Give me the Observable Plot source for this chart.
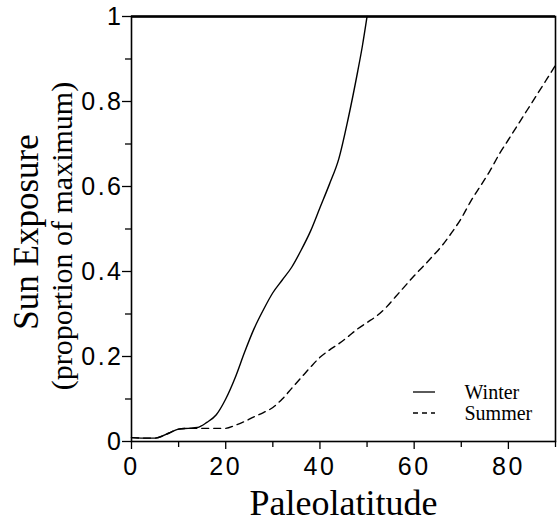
<!DOCTYPE html>
<html>
<head>
<meta charset="utf-8">
<script src="https://cdn.jsdelivr.net/npm/d3@7"></script>
<script src="https://cdn.jsdelivr.net/npm/@observablehq/plot@0.6"></script>
<style>
  html, body { margin: 0; padding: 0; background: #fff; }
  .tick-labels text { letter-spacing: 2.5px; font-family: 'Liberation Sans', Arial, sans-serif !important; }
</style>
</head>
<body>
<div id="chart"></div>
<script>
// Data
const winterLat = [0, 2, 5, 8, 10, 12, 14, 16, 18, 20, 22, 24, 26, 28, 30, 32, 34, 36, 38, 40, 42, 44, 46, 48, 49, 50];
const winterExp = [0.009, 0.008, 0.008, 0.02, 0.029, 0.031, 0.033, 0.045, 0.063, 0.10, 0.15, 0.21, 0.265, 0.31, 0.35, 0.38, 0.41, 0.45, 0.495, 0.55, 0.605, 0.665, 0.76, 0.87, 0.93, 1.0];

const summerLat = [0, 2, 5, 8, 10, 12, 14, 16, 18, 20, 22, 24, 26, 28, 30, 32, 34, 36, 38, 40, 42, 44, 46, 48, 50, 52, 54, 56, 58, 60, 62, 64, 66, 68, 70, 72, 74, 76, 78, 80, 82, 84, 86, 88, 90];
const summerExp = [0.009, 0.008, 0.008, 0.02, 0.029, 0.031, 0.031, 0.031, 0.031, 0.031, 0.038, 0.047, 0.058, 0.068, 0.08, 0.10, 0.125, 0.15, 0.175, 0.198, 0.215, 0.23, 0.247, 0.265, 0.28, 0.295, 0.315, 0.34, 0.365, 0.39, 0.413, 0.437, 0.462, 0.492, 0.525, 0.565, 0.60, 0.635, 0.675, 0.71, 0.745, 0.78, 0.815, 0.85, 0.885];

const xMajorTicks = [0, 20, 40, 60, 80];
const xMinorTicks = [10, 30, 50, 70, 90];
const yMajorTicks = [0, 0.2, 0.4, 0.6, 0.8, 1];
const yMinorTicks = [0.1, 0.3, 0.5, 0.7, 0.9];

const seriesNames = ["Winter", "Summer"];
const xTitle = "Paleolatitude";
const yTitle = "Sun Exposure";
const ySubtitle = "(proportion of maximum)";

const winter = winterLat.map((x, i) => ({x, y: winterExp[i]}));
const summer = summerLat.map((x, i) => ({x, y: summerExp[i]}));

const sans = "'Liberation Sans', Arial, sans-serif";
const serif = "'Liberation Serif', 'Times New Roman', serif";

const plot = Plot.plot({
  width: 559,
  height: 522,
  marginLeft: 131,
  marginRight: 4,
  marginTop: 16,
  marginBottom: 81,
  style: {background: "#fff", color: "#000", fontFamily: sans},
  x: {domain: [0, 90]},
  y: {domain: [0, 1]},
  marks: [
    Plot.axisX({ticks: xMajorTicks, tickSize: 8, tickPadding: 8, fontSize: 25, label: null, tickFormat: d => String(d), strokeWidth: 1.3, className: "tick-labels"}),
    Plot.axisX({ticks: xMinorTicks, tickSize: 6, text: null, label: null, strokeWidth: 1.3}),
    Plot.axisY({ticks: yMajorTicks, tickSize: 9, tickPadding: -1, fontSize: 25, label: null, tickFormat: d => String(d), strokeWidth: 1.3, className: "tick-labels"}),
    Plot.axisY({ticks: yMinorTicks, tickSize: 6, text: null, label: null, strokeWidth: 1.3}),
    Plot.line(summer, {x: "x", y: "y", stroke: "#000", strokeWidth: 1.4, strokeDasharray: "7,5", curve: "monotone-x"}),
    Plot.line(winter, {x: "x", y: "y", stroke: "#000", strokeWidth: 1.4, curve: "monotone-x"}),
    Plot.frame({stroke: "#000", strokeWidth: 1.6}),
    Plot.ruleY([yMajorTicks[yMajorTicks.length - 1]], {stroke: "#000", strokeWidth: 2.6}),
    Plot.text([xTitle], {frameAnchor: "bottom", textAnchor: "middle", dy: 62, fontSize: 36, fontFamily: serif, fill: "#000", lineAnchor: "middle", className: "serif-text"}),
    Plot.text([yTitle], {frameAnchor: "left", textAnchor: "middle", dx: -105, dy: 3, rotate: -90, fontSize: 35, fontFamily: serif, fill: "#000", lineAnchor: "middle", className: "serif-text"}),
    Plot.text([ySubtitle], {frameAnchor: "left", textAnchor: "middle", dx: -69, dy: 7, rotate: -90, fontSize: 30, fontFamily: serif, fill: "#000", lineAnchor: "middle", className: "serif-text"}),
    Plot.text([seriesNames[0]], {frameAnchor: "bottom-right", dx: -91, dy: -49, textAnchor: "start", lineAnchor: "middle", fontSize: 20, fontFamily: serif, fill: "#000", className: "serif-text"}),
    Plot.text([seriesNames[1]], {frameAnchor: "bottom-right", dx: -91, dy: -28, textAnchor: "start", lineAnchor: "middle", fontSize: 20, fontFamily: serif, fill: "#000", className: "serif-text"})
  ]
});

// force serif family on the title/legend texts
const svg = d3.select(plot);
svg.selectAll("text").filter(function() {
  const t = this.textContent;
  return t === xTitle || t === yTitle || t === ySubtitle || seriesNames.includes(t);
}).attr("font-family", serif).style("font-family", serif);

// legend line samples
const xs = plot.scale("x"), ys = plot.scale("y");
const right = xs.range[1], bottom = ys.range[0];
const legendDash = [null, "5,4"];
[-49, -28].forEach((dy, i) => {
  svg.append("line")
    .attr("x1", right - 142).attr("x2", right - 120)
    .attr("y1", bottom + dy).attr("y2", bottom + dy)
    .attr("stroke", "#000").attr("stroke-width", 1.3)
    .attr("stroke-dasharray", legendDash[i]);
});

document.getElementById("chart").appendChild(plot);
</script>
</body>
</html>
